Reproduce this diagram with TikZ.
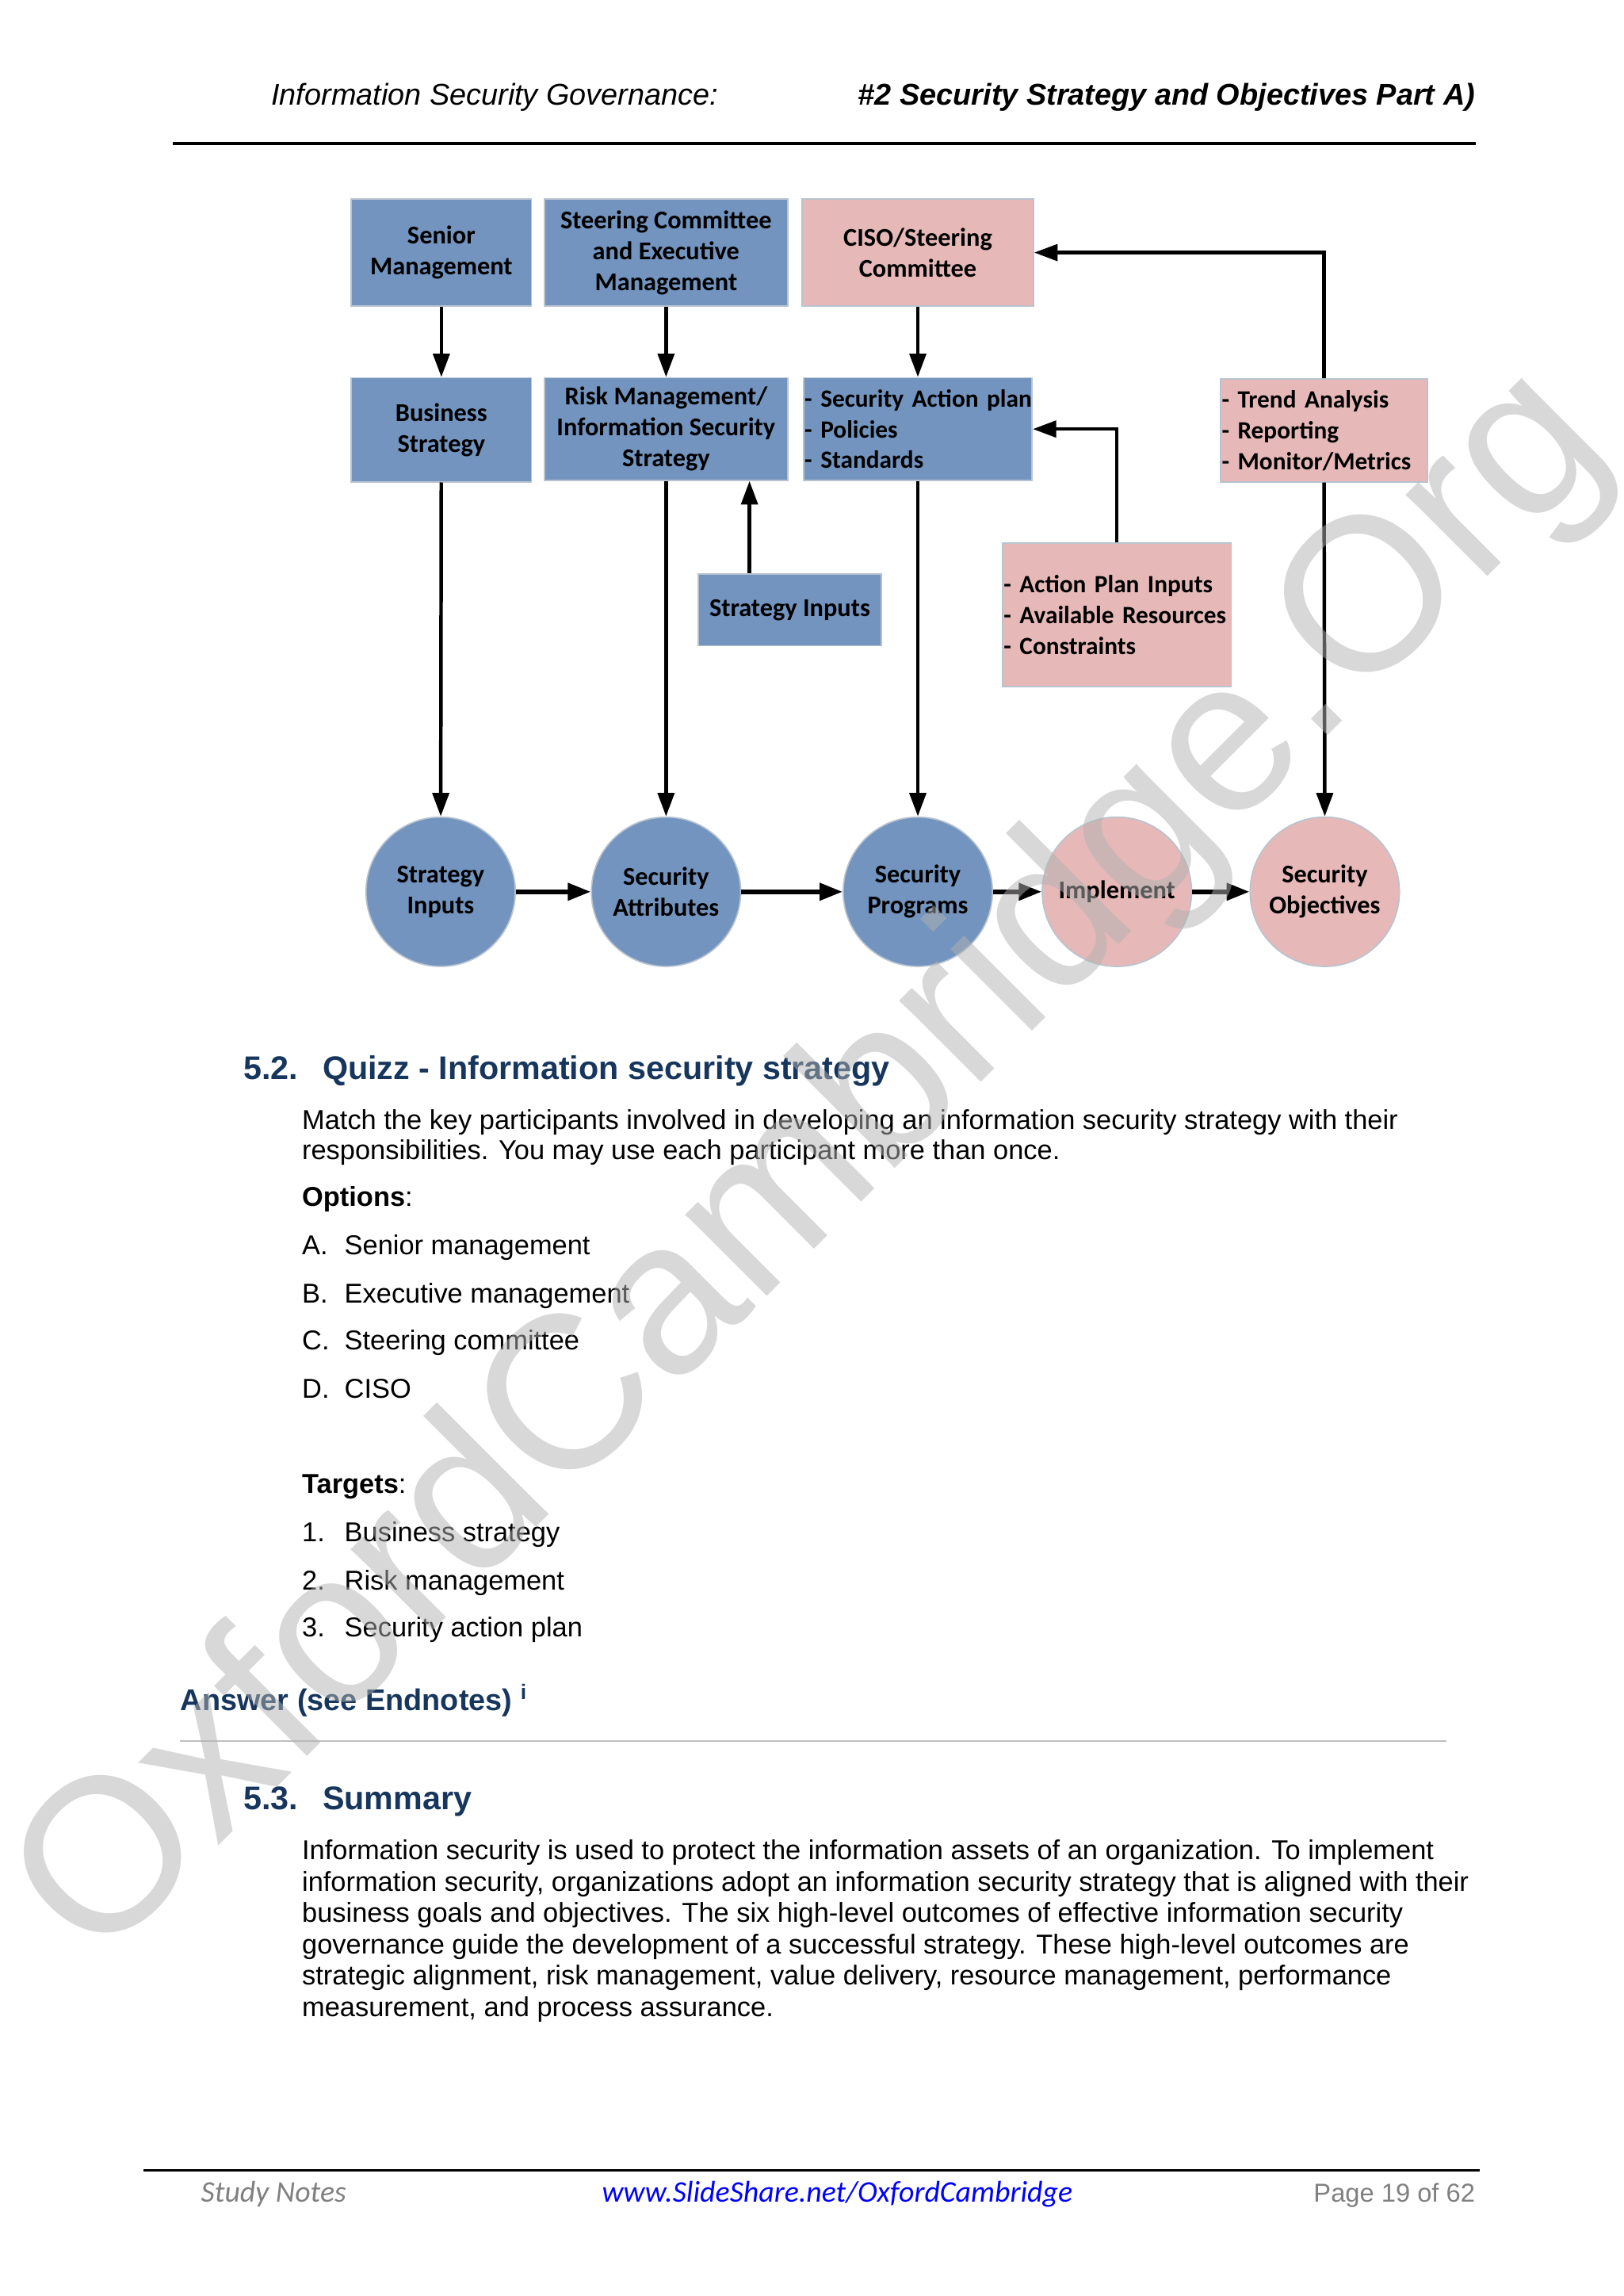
\documentclass[tikz,border=0pt]{standalone}
\usepackage{fontspec}
\setmainfont{Liberation Sans}
\newfontfamily\calib{Carlito}
\usetikzlibrary{arrows.meta,calc,positioning}

\definecolor{boxblue}{HTML}{7294BF}
\definecolor{boxpink}{HTML}{E6B9B8}
\definecolor{boxedge}{HTML}{B9C3CF}
\definecolor{headblue}{HTML}{17365D}
\definecolor{footgray}{HTML}{808080}

\tikzset{
  box/.style={draw=boxedge, line width=0.5pt, inner sep=1pt, align=center,
    font=\calib\bfseries\fontsize{9.4}{11.3}\selectfont},
  blubox/.style={box, fill=boxblue},
  pinkbox/.style={box, fill=boxpink},
  lstbox/.style={text width=#1, inner xsep=0.4pt, align=left,
    font=\calib\bfseries\fontsize{9.1}{11.3}\selectfont},
  circ/.style={box, circle, minimum size=54.75pt, inner sep=0pt},
  varrow/.style={line width=1.3pt, -{Triangle[length=8.6pt,width=6pt]}},
  harrow/.style={line width=1.6pt, -{Triangle[length=8.4pt,width=6.2pt]}},
  bodytxt/.style={anchor=base west, inner sep=0pt, font=\fontsize{10}{11.5}\selectfont},
  headtxt/.style={anchor=base west, inner sep=0pt, text=headblue, font=\bfseries\fontsize{12}{14}\selectfont}
}

\begin{document}
\begin{tikzpicture}[x=0.53677pt,y=-0.53677pt]
  \useasboundingbox (0,0) rectangle (1109,1568);
  \clip (0,0) rectangle (1109,1568);

  % page header
  \node[anchor=base west, inner sep=0pt, font=\itshape\fontsize{11}{13}\selectfont] (hleft) at (185,72) {Information Security Governance:};
  \node[anchor=base east, inner sep=0pt, font=\bfseries\itshape\fontsize{11}{13}\selectfont] (hright) at (1008,72) {\#2 Security Strategy and Objectives Part A)};
  \draw[line width=0.9pt] (118,98) -- (1008,98);

  % top row
  \node[blubox, minimum width=66pt, minimum height=39.2pt] (senior) at (301.5,172.5) {Senior\\Management};
  \node[blubox, minimum width=89.1pt, minimum height=39.2pt] (steer) at (455,172.5) {Steering Committee\\and Executive\\Management};
  \node[pinkbox, minimum width=84.8pt, minimum height=39.2pt] (ciso) at (627,172.5) {CISO/Steering\\Committee};

  % second row
  \node[blubox, minimum width=66pt, minimum height=38.1pt] (bizstrat) at (301.5,293.5) {Business\\Strategy};
  \node[blubox, minimum width=89.1pt, minimum height=37.6pt] (riskstrat) at (455,293) {Risk Management/\\Information Security\\Strategy};
  \node[blubox, lstbox=83pt, minimum height=37.6pt] (secplan) at (627,293)
    {\mbox{- Security Action plan}\\\mbox{- Policies}\\\mbox{- Standards}};
  \node[pinkbox, lstbox=75pt, minimum height=37.6pt] (trend) at (904.5,294)
    {\mbox{- Trend Analysis}\\\mbox{- Reporting}\\\mbox{- Monitor/Metrics}};

  % input boxes
  \node[blubox, minimum width=67.1pt, minimum height=26.3pt] (sinbox) at (539.5,416.5) {Strategy Inputs};
  \node[pinkbox, lstbox=83pt, minimum height=52.6pt] (apinputs) at (763,420)
    {\mbox{- Action Plan Inputs}\\\mbox{- Available Resources}\\\mbox{- Constraints}};

  % circles
  \node[circ, fill=boxblue] (c-inputs) at (301,609) {Strategy\\Inputs};
  \node[circ, fill=boxblue] (c-attr) at (455,609) {Security\\Attributes};
  \node[circ, fill=boxblue] (c-prog) at (627,609) {Security\\Programs};
  \node[circ, fill=boxpink] (c-impl) at (763,609) {Implement};
  \node[circ, fill=boxpink] (c-obj) at (905,609) {Security\\Objectives};

  % arrows
  \draw[varrow] (senior) -- (bizstrat);
  \draw[varrow] (steer) -- (riskstrat);
  \draw[varrow] (ciso) -- (secplan);
  \draw[varrow] (bizstrat) -- (c-inputs);
  \draw[varrow] (riskstrat) -- (c-attr);
  \draw[varrow] (secplan) -- (c-prog);
  \draw[varrow] (trend.south) -- (c-obj.north);
  \draw[varrow] ($(sinbox.north)+(-27.5,0)$) coordinate (si) -- (si |- riskstrat.south);
  \draw[varrow] (apinputs.north) |- (secplan.east);
  \draw[varrow] (trend.north) |- (ciso.east);
  \draw[harrow] (c-inputs) -- (c-attr);
  \draw[harrow] (c-attr) -- (c-prog);
  \draw[harrow] (c-prog) -- (c-impl);
  \draw[harrow] (c-impl) -- (c-obj);

  % quiz
  \node[headtxt] (q-num) at (166,737) {5.2.};
  \node[headtxt] (q-title) at (220,737) {Quizz - Information security strategy};
  \node[bodytxt] (q-text1) at (206,771) {Match the key participants involved in developing an information security strategy with their};
  \node[bodytxt] (q-text2) at (206,792) {responsibilities. You may use each participant more than once.};
  \node[bodytxt] (opts) at (206,824) {\textbf{Options}:};
  \foreach \lab/\txt/\yy [count=\i] in {A./Senior management/857, B./Executive management/890,
      C./Steering committee/922, D./CISO/955}{
    \node[bodytxt] (opt-l\i) at (206,\yy) {\lab};
    \node[bodytxt] (opt-t\i) at (235,\yy) {\txt};
  }
  \node[bodytxt] (tgts) at (206,1020) {\textbf{Targets}:};
  \foreach \lab/\txt/\yy [count=\i] in {1./Business strategy/1053, 2./Risk management/1086,
      3./Security action plan/1118}{
    \node[bodytxt] (tgt-l\i) at (206,\yy) {\lab};
    \node[bodytxt] (tgt-t\i) at (235,\yy) {\txt};
  }
  \node[anchor=base west, inner sep=0pt, text=headblue, font=\bfseries\fontsize{11}{13}\selectfont] (answer) at (123,1168) {Answer (see Endnotes) \textsuperscript{i}};
  \draw[line width=0.8pt, black!25] (123,1189) -- (988,1189);

  % summary
  \node[headtxt] (s-num) at (166,1236) {5.3.};
  \node[headtxt] (s-title) at (220,1236) {Summary};
  \node[bodytxt] (s-line1) at (206,1270) {Information security is used to protect the information assets of an organization. To implement};
  \node[bodytxt] (s-line2) at (206,1291.4) {information security, organizations adopt an information security strategy that is aligned with their};
  \node[bodytxt] (s-line3) at (206,1312.8) {business goals and objectives. The six high-level outcomes of effective information security};
  \node[bodytxt] (s-line4) at (206,1334.2) {governance guide the development of a successful strategy. These high-level outcomes are};
  \node[bodytxt] (s-line5) at (206,1355.6) {strategic alignment, risk management, value delivery, resource management, performance};
  \node[bodytxt] (s-line6) at (206,1377) {measurement, and process assurance.};

  % page footer
  \draw[line width=0.9pt] (98,1482) -- (1011,1482);
  \node[anchor=base west, inner sep=0pt, text=footgray, font=\calib\itshape\fontsize{11}{13}\selectfont] (f-left) at (137,1504) {Study Notes};
  \node[anchor=base, inner sep=0pt, text=blue, font=\calib\itshape\fontsize{11}{13}\selectfont] (f-mid) at (572,1504) {www.SlideShare.net/OxfordCambridge};
  \node[anchor=base east, inner sep=0pt, text=footgray, font=\fontsize{9.5}{11}\selectfont] (f-right) at (1008,1504) {Page 19 of 62};

  % watermark
  \node[rotate=45, inner sep=0pt, text=black!30, text opacity=0.5, font=\fontsize{80}{80}\selectfont] (wmark) at (557,798) {OxfordCambridge.Org};
\end{tikzpicture}
\end{document}
